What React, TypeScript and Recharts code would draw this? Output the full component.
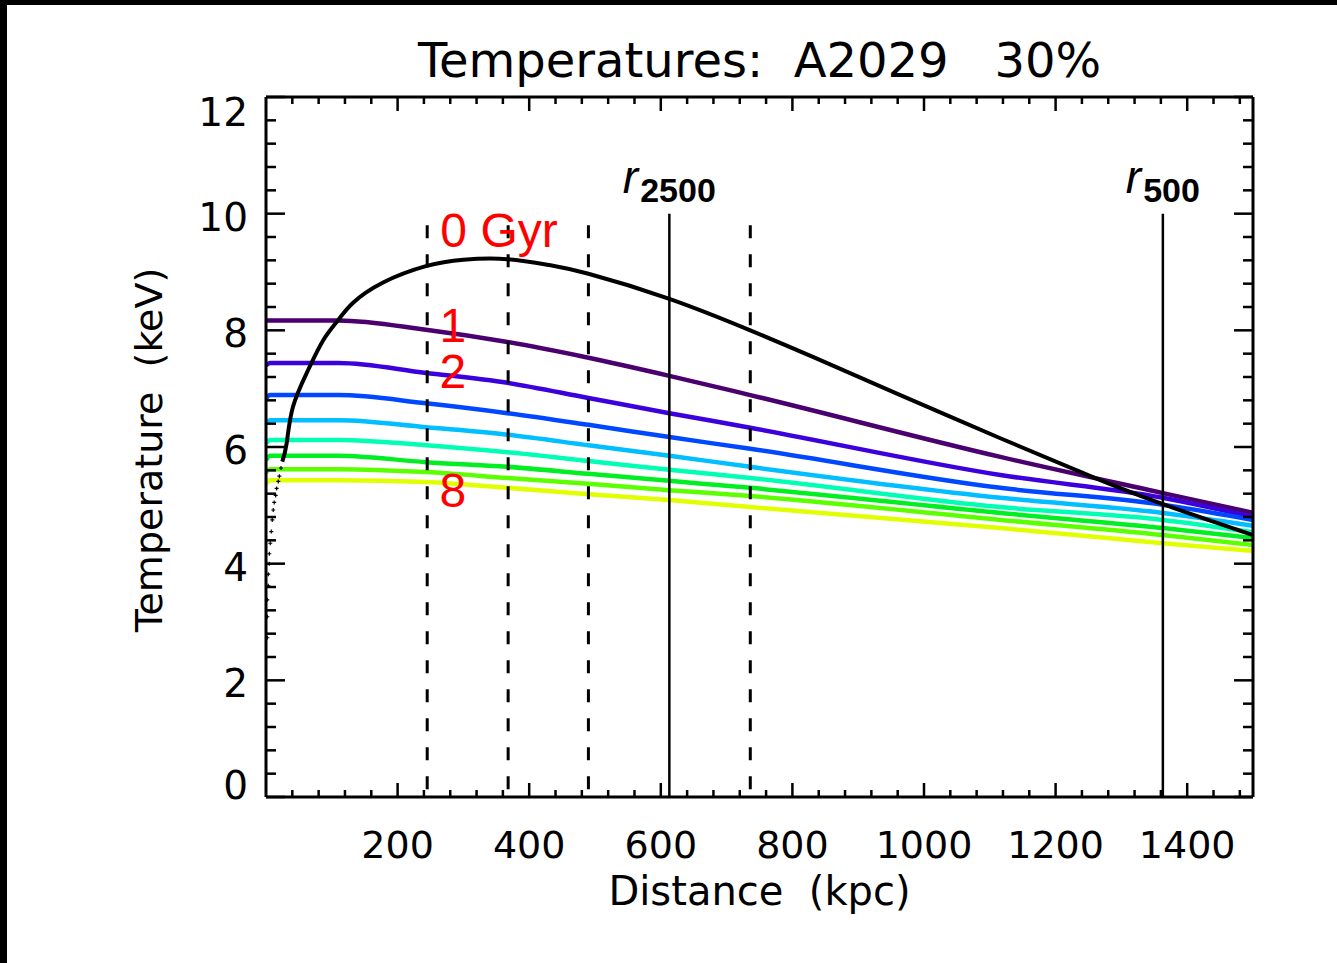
import React from 'react';
import {
  ComposedChart,
  Line,
  Scatter,
  XAxis,
  YAxis,
  ReferenceLine,
  ReferenceDot,
  Customized,
} from 'recharts';

// ---------- text ----------
const titleText = 'Temperatures:  A2029   30%';
const xTitle = 'Distance  (kpc)';
const yTitle = 'Temperature  (keV)';

// ---------- ticks ----------
const xMajorLabels = [200, 400, 600, 800, 1000, 1200, 1400];
const xMinorStep = 40;
const yMajorLabels = [0, 2, 4, 6, 8, 10, 12];
const yMinorStep = 0.4;

// ---------- data: distance (kpc) ----------
const distances = [0, 6, 110, 243, 367, 490, 613, 736, 1116, 1363, 1500];
const temp1Gyr = [8.17, 8.17, 8.17, 8.01, 7.8, 7.53, 7.22, 6.89, 5.83, 5.21, 4.87];
const temp2Gyr = [7.4, 7.44, 7.44, 7.27, 7.1, 6.84, 6.58, 6.33, 5.52, 5.13, 4.8];
const temp3Gyr = [6.83, 6.89, 6.89, 6.75, 6.58, 6.38, 6.17, 5.97, 5.3, 5.01, 4.75];
const temp4Gyr = [6.4, 6.46, 6.46, 6.34, 6.21, 6.03, 5.85, 5.66, 5.13, 4.87, 4.65];
const temp5Gyr = [6.06, 6.12, 6.12, 6.03, 5.91, 5.76, 5.61, 5.47, 4.97, 4.75, 4.54];
const temp6Gyr = [5.77, 5.85, 5.85, 5.74, 5.66, 5.54, 5.42, 5.3, 4.87, 4.61, 4.44];
const temp7Gyr = [5.56, 5.62, 5.62, 5.57, 5.47, 5.37, 5.26, 5.16, 4.75, 4.49, 4.32];
const temp8Gyr = [5.37, 5.43, 5.43, 5.4, 5.3, 5.19, 5.09, 4.97, 4.61, 4.35, 4.22];

// 0 Gyr profile (solid part)
const r0Line = [24.8, 31.5, 41, 64, 87, 110, 132, 178, 243, 300, 367, 430, 490, 613, 736, 832, 964, 1116, 1253, 1363, 1500];
const t0Line = [5.75, 6.07, 6.69, 7.32, 7.83, 8.18, 8.47, 8.82, 9.1, 9.21, 9.22, 9.12, 8.97, 8.54, 8.0, 7.54, 6.89, 6.15, 5.5, 5.02, 4.49];
// 0 Gyr profile (sparse points near centre)
const r0Dots = [2, 2, 2, 3.5, 3.5, 5, 5, 6.5, 8, 9.5, 11, 12.5, 14.7, 16.2, 18.7, 20.3, 22.8];
const t0Dots = [2.73, 3.09, 3.38, 3.62, 3.82, 4.0, 4.17, 4.35, 4.55, 4.75, 4.92, 5.05, 5.17, 5.29, 5.41, 5.5, 5.64];

// reference radii
const r2500 = 613;
const r500 = 1363;
const dashedRadii = [245, 368, 490, 736];
const solidTop = 10.0;
const dashedTop = 9.8;

// annotations
const ageLabels = [
  { text: '0 Gyr', r: 265, t: 9.43, anchor: 'start' },
  { text: '1', r: 284, t: 7.8, anchor: 'middle' },
  { text: '2', r: 284, t: 7.01, anchor: 'middle' },
  { text: '8', r: 284, t: 4.97, anchor: 'middle' },
];
const radiusLabels = [
  { sub: '2500', r: r2500, t: 10.355 },
  { sub: '500', r: r500, t: 10.355 },
];

const ageColors = ['#4b0070', '#3c00dc', '#0048ff', '#00beff', '#00ffb4', '#00ee22', '#5cff00', '#e0ff00'];
const ageSeries = [temp1Gyr, temp2Gyr, temp3Gyr, temp4Gyr, temp5Gyr, temp6Gyr, temp7Gyr, temp8Gyr];

// ---------- layout ----------
const W = 1337;
const H = 963;
const PLOT_L = 266;
const PLOT_R = 1253;
const PLOT_T = 97;
const PLOT_B = 797;

const TICK_FONT = "'DejaVu Sans', sans-serif";
const ANNOT_FONT = "'Liberation Sans', Arial, sans-serif";

const xTicks: number[] = [];
for (let i = 1; i * xMinorStep < 1500; i++) xTicks.push(i * xMinorStep);
const yTicks: number[] = [];
for (let i = 0; i <= 30; i++) yTicks.push(Math.round(i * yMinorStep * 10) / 10);

const isYMajor = (v: number) => yMajorLabels.some((m) => Math.abs(m - v) < 1e-6);
const isXMajor = (v: number) => xMajorLabels.includes(v);

const AX = { stroke: '#000', strokeWidth: 3 };

const BottomTick = (p: any) => {
  const { x, y, payload } = p;
  const v = payload.value;
  const major = isXMajor(v);
  return (
    <g>
      <line x1={x} x2={x} y1={y} y2={y - (major ? 14 : 7)} stroke="#000" strokeWidth={2.5} />
      {major && (
        <text x={x} y={y + 61} textAnchor="middle" fontFamily={TICK_FONT} fontSize={38} fill="#000">
          {v}
        </text>
      )}
    </g>
  );
};

const TopTick = (p: any) => {
  const { x, y, payload } = p;
  const major = isXMajor(payload.value);
  return <line x1={x} x2={x} y1={y} y2={y + (major ? 14 : 7)} stroke="#000" strokeWidth={2.5} />;
};

const LeftTick = (p: any) => {
  const { x, y, payload } = p;
  const v = payload.value;
  const major = isYMajor(v);
  let dy = 3;
  if (v === 12) dy = 15;
  if (v === 0) dy = -12;
  return (
    <g>
      <line x1={x} x2={x + (major ? 19 : 10)} y1={y} y2={y} stroke="#000" strokeWidth={2.5} />
      {major && (
        <text x={x - 18} y={y + dy} dy="0.36em" textAnchor="end" fontFamily={TICK_FONT} fontSize={39} fill="#000">
          {v}
        </text>
      )}
    </g>
  );
};

const RightTick = (p: any) => {
  const { x, y, payload } = p;
  const major = isYMajor(payload.value);
  return <line x1={x} x2={x - (major ? 19 : 10)} y1={y} y2={y} stroke="#000" strokeWidth={2.5} />;
};

const Titles = () => (
  <g>
    <text x={(PLOT_L + PLOT_R) / 2} y={77} textAnchor="middle" fontFamily={TICK_FONT} fontSize={48} fill="#000" style={{ whiteSpace: 'pre' }}>
      {titleText}
    </text>
    <text x={(PLOT_L + PLOT_R) / 2} y={905} textAnchor="middle" fontFamily={TICK_FONT} fontSize={40} fill="#000" style={{ whiteSpace: 'pre' }}>
      {xTitle}
    </text>
    <text
      x={162}
      y={450}
      transform="rotate(-90, 162, 450)"
      textAnchor="middle"
      fontFamily={TICK_FONT}
      fontSize={38}
      fill="#000"
      style={{ whiteSpace: 'pre' }}
    >
      {yTitle}
    </text>
  </g>
);

const cross = (p: any) => {
  const { cx, cy } = p;
  return <path d={`M${cx - 2},${cy}h4M${cx},${cy - 2}v4`} stroke="#000" strokeWidth={1.2} fill="none" />;
};

export default function App() {
  const seriesData = ageSeries.map((arr) => distances.map((r, i) => ({ r, t: arr[i] })));
  const blackLine = r0Line.map((r, i) => ({ r, t: t0Line[i] }));
  const blackDots = r0Dots.map((r, i) => ({ r, t: t0Dots[i] }));

  return (
    <div style={{ position: 'absolute', left: 0, top: 0, width: W, height: H, background: '#fff', overflow: 'hidden' }}>
      <ComposedChart
        width={W}
        height={H}
        margin={{ top: PLOT_T - 1, right: W - PLOT_R - 1, bottom: H - PLOT_B - 1, left: PLOT_L - 1 }}
      >
        <XAxis
          xAxisId="b"
          type="number"
          dataKey="r"
          domain={[0, 1500]}
          ticks={xTicks}
          interval={0}
          height={1}
          tickSize={0}
          tickMargin={0}
          tickLine={false}
          axisLine={AX}
          tick={BottomTick}
          allowDataOverflow
        />
        <XAxis
          xAxisId="t"
          orientation="top"
          type="number"
          dataKey="r"
          domain={[0, 1500]}
          ticks={xTicks}
          interval={0}
          height={1}
          tickSize={0}
          tickMargin={0}
          tickLine={false}
          axisLine={AX}
          tick={TopTick}
          allowDataOverflow
        />
        <YAxis
          yAxisId="l"
          type="number"
          dataKey="t"
          domain={[0, 12]}
          ticks={yTicks}
          interval={0}
          width={1}
          tickSize={0}
          tickMargin={0}
          tickLine={false}
          axisLine={AX}
          tick={LeftTick}
          allowDataOverflow
        />
        <YAxis
          yAxisId="r"
          orientation="right"
          type="number"
          dataKey="t"
          domain={[0, 12]}
          ticks={yTicks}
          interval={0}
          width={1}
          tickSize={0}
          tickMargin={0}
          tickLine={false}
          axisLine={AX}
          tick={RightTick}
          allowDataOverflow
        />

        {seriesData.map((d, i) => (
          <Line
            key={`age${i + 1}`}
            xAxisId="b"
            yAxisId="l"
            data={d}
            dataKey="t"
            type="monotone"
            stroke={ageColors[i]}
            strokeWidth={4.5}
            dot={false}
            activeDot={false}
            isAnimationActive={false}
          />
        ))}
        <Line
          xAxisId="b"
          yAxisId="l"
          data={blackLine}
          dataKey="t"
          type="natural"
          stroke="#000"
          strokeWidth={4}
          dot={false}
          activeDot={false}
          isAnimationActive={false}
        />
        <Scatter
          xAxisId="b"
          yAxisId="l"
          data={blackDots}
          dataKey="t"
          shape={cross}
          isAnimationActive={false}
        />

        {dashedRadii.map((r) => (
          <ReferenceLine
            key={`d${r}`}
            xAxisId="b"
            yAxisId="l"
            segment={[{ x: r, y: dashedTop }, { x: r, y: 0 }]}
            stroke="#000"
            strokeWidth={3}
            strokeDasharray="13 16"
          />
        ))}
        {[r2500, r500].map((r) => (
          <ReferenceLine
            key={`s${r}`}
            xAxisId="b"
            yAxisId="l"
            segment={[{ x: r, y: solidTop }, { x: r, y: 0 }]}
            stroke="#000"
            strokeWidth={2.5}
          />
        ))}

        {ageLabels.map((a) => (
          <ReferenceDot
            key={a.text}
            xAxisId="b"
            yAxisId="l"
            x={a.r}
            y={a.t}
            r={0}
            shape={(p: any) => (
              <text x={p.cx} y={p.cy} textAnchor={a.anchor as any} fontFamily={ANNOT_FONT} fontSize={48} fill="#ff0000">
                {a.text}
              </text>
            )}
          />
        ))}
        {radiusLabels.map((a) => (
          <ReferenceDot
            key={a.sub}
            xAxisId="b"
            yAxisId="l"
            x={a.r}
            y={a.t}
            r={0}
            shape={(p: any) => (
              <text x={p.cx} y={p.cy} textAnchor="middle" fontFamily={ANNOT_FONT} fill="#000">
                <tspan fontStyle="italic" fontSize={46}>r</tspan>
                <tspan fontWeight="bold" fontSize={34} dx={2} dy={9}>
                  {a.sub}
                </tspan>
              </text>
            )}
          />
        ))}
        <Customized component={<Titles />} />
      </ComposedChart>
      <div style={{ position: 'absolute', left: 0, top: 0, width: W, height: 5, background: '#000' }} />
      <div style={{ position: 'absolute', left: 0, top: 0, width: 7, height: H, background: '#000' }} />
    </div>
  );
}
